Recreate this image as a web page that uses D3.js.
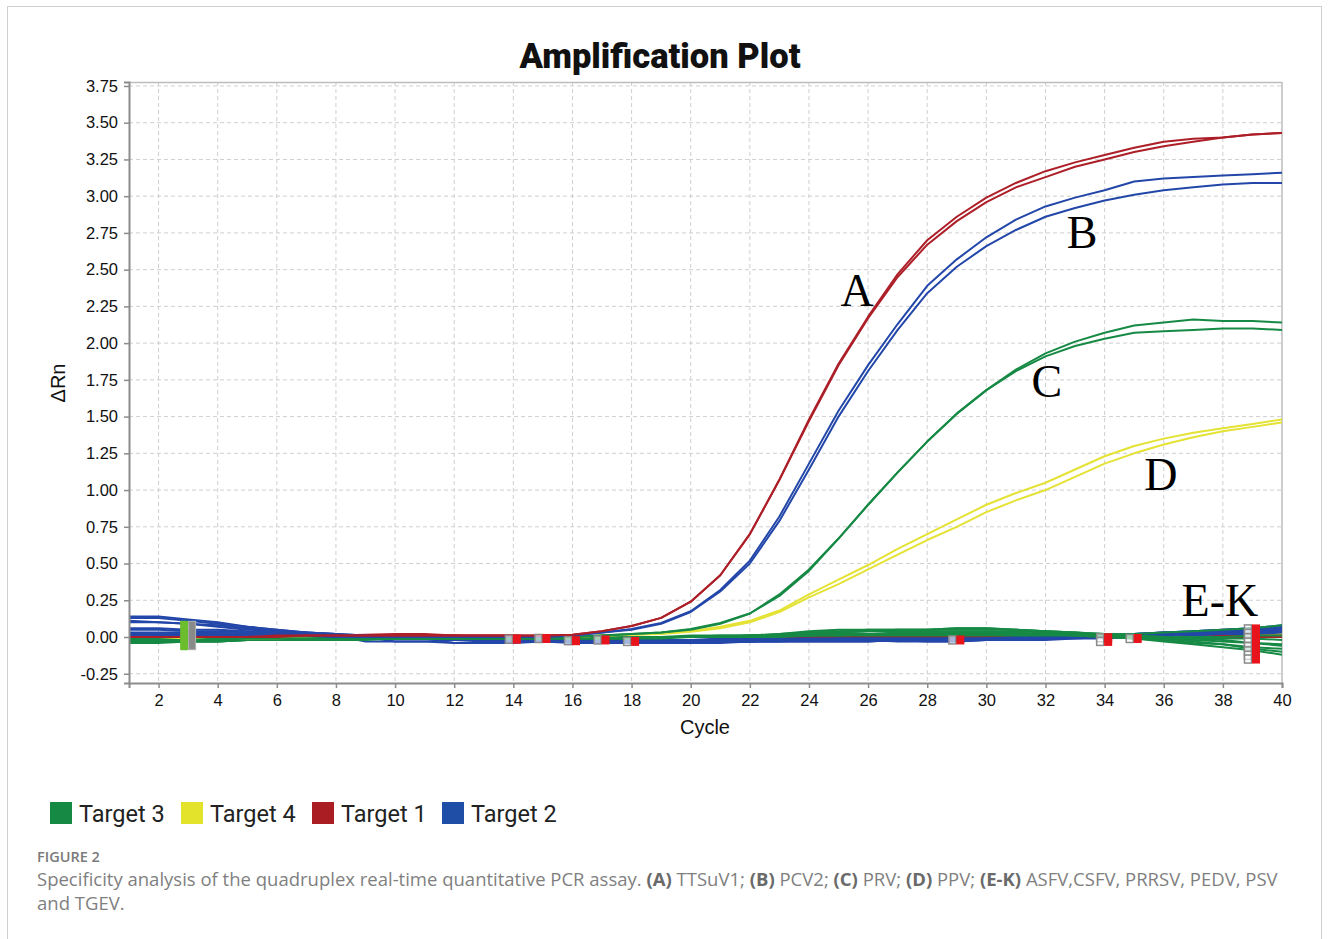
<!DOCTYPE html>
<html>
<head>
<meta charset="utf-8">
<script src="https://cdn.jsdelivr.net/npm/d3@7/dist/d3.min.js"></script>
<style>
  html, body { margin: 0; padding: 0; background: #fff; }
  svg { display: block; }
</style>
</head>
<body>
<svg id="chart" width="1329" height="939"></svg>
<script>
// ---- data -------------------------------------------------------------
const cycles = d3.range(1, 41);
const xTicks = d3.range(2, 41, 2);
const yTicks = [-0.25, 0, 0.25, 0.5, 0.75, 1, 1.25, 1.5, 1.75, 2, 2.25, 2.5, 2.75, 3, 3.25, 3.5, 3.75];

// Amplified samples (delta Rn per cycle, cycles 1..40)
const target1A = [0.00,0.00,0.00,0.00,0.00,0.01,0.01,0.01,0.01,0.01,0.01,0.01,0.01,0.01,0.01,0.015,0.04,0.075,0.13,0.24,0.42,0.70,1.07,1.48,1.86,2.18,2.47,2.70,2.86,2.99,3.09,3.17,3.23,3.28,3.33,3.37,3.39,3.40,3.42,3.43];
const target1B = [0.00,0.00,0.00,0.00,0.00,0.00,0.01,0.01,0.01,0.01,0.01,0.01,0.01,0.01,0.01,0.015,0.04,0.075,0.13,0.24,0.42,0.70,1.07,1.47,1.85,2.17,2.45,2.67,2.83,2.96,3.06,3.13,3.20,3.25,3.30,3.34,3.37,3.40,3.42,3.43];
const target2A = [0.02,0.02,0.02,0.02,0.01,0.01,0.01,0.00,0.00,0.00,0.00,0.00,0.00,0.00,0.00,0.01,0.03,0.055,0.095,0.175,0.32,0.52,0.82,1.18,1.54,1.85,2.13,2.39,2.57,2.72,2.84,2.93,2.99,3.04,3.10,3.12,3.13,3.14,3.15,3.16];
const target2B = [0.01,0.01,0.01,0.01,0.01,0.01,0.01,0.00,0.00,0.00,0.00,0.00,0.00,0.00,0.00,0.01,0.03,0.05,0.09,0.17,0.31,0.50,0.79,1.14,1.50,1.81,2.09,2.34,2.52,2.66,2.77,2.86,2.92,2.97,3.01,3.04,3.06,3.08,3.09,3.09];
const target3A = [-0.02,-0.02,-0.02,-0.01,-0.01,-0.01,-0.01,0.00,0.00,0.00,0.00,0.00,0.00,0.00,0.00,0.00,0.01,0.02,0.03,0.055,0.095,0.16,0.29,0.46,0.67,0.90,1.12,1.33,1.52,1.68,1.82,1.93,2.01,2.07,2.12,2.14,2.16,2.15,2.15,2.14];
const target3B = [-0.02,-0.02,-0.02,-0.02,-0.01,-0.01,-0.01,-0.01,0.00,0.00,0.00,0.00,0.00,0.00,0.00,0.00,0.01,0.02,0.03,0.05,0.09,0.16,0.28,0.45,0.67,0.90,1.12,1.33,1.52,1.68,1.81,1.91,1.98,2.03,2.07,2.08,2.09,2.10,2.10,2.09];
const target4A = [-0.02,-0.02,-0.01,-0.01,-0.01,0.00,0.00,0.00,0.00,0.00,0.00,0.00,0.00,0.00,0.00,0.00,0.01,0.015,0.025,0.04,0.07,0.11,0.18,0.29,0.39,0.49,0.60,0.70,0.80,0.90,0.98,1.05,1.14,1.23,1.30,1.35,1.39,1.42,1.45,1.48];
const target4B = [-0.02,-0.02,-0.02,-0.01,-0.01,-0.01,0.00,0.00,0.00,0.00,0.00,0.00,0.00,0.00,0.00,0.00,0.01,0.015,0.02,0.035,0.06,0.10,0.17,0.27,0.36,0.46,0.56,0.66,0.75,0.85,0.93,1.00,1.09,1.18,1.25,1.31,1.36,1.40,1.43,1.46];

// Negative samples (E-K), grouped by detection channel
const negBlue = [
  [0.14,0.14,0.12,0.10,0.07,0.05,0.03,0.02,0.01,0.00,-0.01,-0.02,-0.02,-0.02,-0.02,-0.02,-0.03,-0.03,-0.03,-0.03,-0.03,-0.03,-0.02,-0.02,-0.02,-0.02,-0.02,-0.02,-0.01,-0.01,-0.01,-0.01,0.00,0.01,0.02,0.03,0.04,0.05,0.06,0.07],
  [0.13,0.13,0.11,0.09,0.07,0.05,0.03,0.02,0.00,-0.01,-0.01,-0.01,-0.02,-0.02,-0.02,-0.02,-0.02,-0.02,-0.03,-0.03,-0.03,-0.03,-0.03,-0.02,-0.02,-0.02,-0.02,-0.02,-0.02,-0.02,-0.01,-0.01,0.00,0.00,0.01,0.02,0.03,0.04,0.04,0.05],
  [0.11,0.10,0.09,0.07,0.05,0.04,0.03,0.01,-0.03,-0.03,-0.03,-0.04,-0.04,-0.04,-0.03,-0.03,-0.03,-0.03,-0.03,-0.03,-0.03,-0.03,-0.03,-0.03,-0.03,-0.03,-0.02,-0.02,-0.02,-0.01,-0.01,0.00,0.00,0.00,0.01,0.02,0.03,0.04,0.05,0.06],
  [0.06,0.06,0.05,0.05,0.04,0.03,0.02,0.01,0.00,-0.03,-0.03,-0.02,-0.02,-0.02,-0.03,-0.03,-0.03,-0.02,-0.02,-0.02,-0.02,-0.02,-0.02,-0.02,-0.02,-0.02,-0.03,-0.03,-0.03,-0.02,-0.02,-0.01,-0.01,0.00,0.00,0.01,0.02,0.03,0.03,0.04],
  [0.05,0.05,0.04,0.04,0.03,0.03,0.02,0.01,0.00,0.00,-0.01,-0.04,-0.04,-0.03,-0.03,-0.04,-0.04,-0.04,-0.04,-0.04,-0.04,-0.03,-0.03,-0.03,-0.03,-0.03,-0.02,-0.02,-0.02,-0.02,-0.02,-0.01,0.00,0.01,0.02,0.03,0.04,0.05,0.06,0.08],
  [0.03,0.03,0.03,0.03,0.02,0.02,0.02,0.01,0.00,0.00,0.00,-0.01,-0.01,-0.01,-0.02,-0.02,-0.02,-0.02,-0.02,-0.02,-0.01,-0.01,-0.01,-0.01,-0.01,-0.01,-0.01,-0.01,-0.01,-0.01,0.00,0.00,0.00,0.01,0.01,0.02,0.02,0.03,0.03,0.04],
  [0.02,0.02,0.02,0.02,0.01,0.01,0.01,0.01,0.00,-0.01,-0.01,-0.02,-0.03,-0.03,-0.02,-0.02,-0.02,-0.03,-0.03,-0.03,-0.03,-0.03,-0.02,-0.02,-0.02,-0.02,-0.02,-0.03,-0.03,-0.02,-0.02,-0.02,-0.01,-0.01,0.00,0.00,0.01,0.02,0.02,0.03],
  [0.10,0.10,0.09,0.08,0.06,0.04,0.03,0.02,0.01,0.00,0.00,-0.01,-0.02,-0.02,-0.02,-0.01,-0.01,-0.02,-0.02,-0.02,-0.02,-0.02,-0.02,-0.02,-0.01,-0.01,-0.01,-0.01,-0.01,-0.02,-0.01,-0.01,0.00,0.01,0.02,0.03,0.03,0.04,0.05,0.06]
];
const negGreen = [
  [-0.04,-0.04,-0.03,-0.03,-0.02,-0.02,-0.02,-0.01,-0.01,-0.01,-0.01,-0.01,-0.01,-0.01,-0.01,-0.01,-0.01,-0.01,0.00,0.00,0.00,0.01,0.02,0.04,0.05,0.05,0.05,0.05,0.06,0.06,0.05,0.04,0.03,0.02,0.01,0.00,-0.01,-0.02,-0.04,-0.05],
  [-0.03,-0.03,-0.03,-0.02,-0.02,-0.02,-0.01,-0.01,-0.01,-0.01,-0.01,-0.01,0.00,0.00,0.00,0.00,0.00,0.00,0.00,0.01,0.01,0.01,0.02,0.03,0.04,0.05,0.05,0.05,0.05,0.05,0.05,0.04,0.03,0.01,-0.01,-0.03,-0.05,-0.07,-0.09,-0.12],
  [-0.02,-0.02,-0.02,-0.02,-0.02,-0.01,-0.01,-0.01,-0.01,-0.01,-0.01,-0.01,-0.01,0.00,0.00,0.00,0.00,0.00,0.00,0.00,0.00,0.01,0.01,0.01,0.02,0.02,0.02,0.03,0.03,0.03,0.03,0.02,0.01,0.00,-0.01,-0.02,-0.04,-0.05,-0.07,-0.08],
  [-0.03,-0.03,-0.02,-0.02,-0.02,-0.02,-0.01,-0.01,-0.01,0.00,0.00,0.00,0.00,0.00,0.00,0.00,0.00,0.00,0.00,0.00,0.01,0.01,0.01,0.01,0.01,0.02,0.02,0.02,0.02,0.02,0.02,0.02,0.02,0.02,0.02,0.03,0.04,0.05,0.06,0.08],
  [-0.02,-0.02,-0.02,-0.02,-0.01,-0.01,-0.01,-0.01,-0.01,-0.01,-0.01,-0.01,0.00,0.00,0.00,0.00,0.00,0.00,0.00,0.00,0.00,0.01,0.01,0.02,0.03,0.04,0.04,0.04,0.04,0.04,0.04,0.03,0.02,0.01,0.00,0.00,0.00,0.00,0.01,0.01],
  [-0.04,-0.03,-0.03,-0.03,-0.02,-0.02,-0.02,-0.02,-0.01,-0.01,-0.01,-0.01,-0.01,-0.01,-0.01,-0.01,-0.01,-0.01,-0.01,0.00,0.00,0.00,0.01,0.01,0.02,0.02,0.03,0.03,0.03,0.03,0.02,0.02,0.01,0.00,-0.01,-0.01,-0.02,-0.03,-0.04,-0.06],
  [-0.01,-0.01,-0.01,-0.01,-0.01,-0.01,-0.01,-0.01,-0.01,-0.01,0.00,0.00,0.00,0.00,0.00,0.00,0.00,0.00,0.00,0.00,0.00,0.00,0.01,0.02,0.03,0.04,0.05,0.05,0.06,0.06,0.05,0.04,0.03,0.02,0.01,0.00,-0.01,-0.01,-0.01,-0.02],
  [-0.03,-0.03,-0.03,-0.03,-0.02,-0.02,-0.02,-0.02,-0.02,-0.01,-0.01,-0.01,-0.01,-0.01,-0.01,-0.01,-0.01,-0.01,0.00,0.00,0.00,0.00,0.00,0.01,0.01,0.01,0.01,0.01,0.01,0.01,0.01,0.01,0.01,0.01,0.00,-0.01,-0.03,-0.05,-0.08,-0.10]
];
const negYellow = [
  [-0.02,-0.02,-0.02,-0.01,-0.01,-0.01,0.00,0.00,0.00,0.00,0.00,0.00,0.00,0.00,0.00,0.00,0.00,0.00,0.00,0.00,0.00,0.00,0.00,0.00,0.00,0.00,0.00,0.00,-0.01,-0.01,-0.01,0.00,0.01,0.02,0.02,0.02,0.02,0.02,0.02,0.02],
  [-0.03,-0.03,-0.02,-0.02,-0.01,-0.01,-0.01,0.00,0.01,0.01,0.01,0.01,0.00,0.00,0.00,0.00,0.00,0.00,0.00,0.00,0.00,0.00,0.00,0.00,-0.01,-0.01,-0.01,-0.01,-0.02,-0.02,-0.01,-0.01,0.00,0.01,0.01,0.01,0.01,0.01,0.01,0.01]
];
const negRed = [
  [0.00,0.00,0.00,0.00,0.00,0.00,0.01,0.01,0.015,0.02,0.02,0.01,0.01,0.01,0.00,0.00,0.00,0.00,0.00,0.00,0.00,0.00,0.00,0.00,0.00,0.00,0.00,0.00,0.00,0.00,0.00,0.00,0.00,0.00,0.00,0.00,0.00,0.00,0.00,0.00],
  [0.00,0.00,0.00,0.00,0.00,0.00,0.00,0.01,0.01,0.01,0.01,0.01,0.00,0.00,0.00,0.00,0.00,0.00,0.00,0.00,0.00,0.00,0.00,0.00,0.00,0.00,0.00,0.00,-0.01,-0.01,-0.01,-0.01,0.00,0.00,0.00,0.00,0.00,0.01,0.01,0.01]
];

// Threshold-crossing (Ct) markers: cycle, delta Rn
const ctMarkers = [
  [14.12,-0.015],[15.12,-0.01],[16.12,-0.025],[17.12,-0.02],[18.12,-0.03],
  [29.12,-0.02],[34.12,-0.005],[34.12,-0.03],[35.12,-0.01],
  [39.12,0.055],[39.12,0.025],[39.12,-0.005],[39.12,-0.035],[39.12,-0.065],[39.12,-0.095],[39.12,-0.125],[39.12,-0.15]
];
// Baseline start bar: cycle, low, high
const baselineStart = [3, -0.09, 0.11];

const curveLabels = [
  { text: "A",   cycle: 25.63, value: 2.25 },
  { text: "B",   cycle: 33.24, value: 2.646 },
  { text: "C",   cycle: 32.05, value: 1.633 },
  { text: "D",   cycle: 35.9,  value: 1.0 },
  { text: "E-K", cycle: 37.9,  value: 0.143 }
];

const legendNames = ["Target 3", "Target 4", "Target 1", "Target 2"];
const legendColors = ["#168a45", "#e4e32b", "#a91d23", "#1e4ea6"];

// ---- layout -----------------------------------------------------------
const plot = { left: 129, right: 1282, top: 82, bottom: 683 };

const colors = {
  red: "#ad1f28",
  blue: "#2347a9",
  green: "#168a45",
  yellow: "#e4e234"
};

const svg = d3.select("#chart");

// outer frame
svg.append("rect")
  .attr("x", 7.5).attr("y", 6.5)
  .attr("width", 1314).attr("height", 1000)
  .attr("fill", "none").attr("stroke", "#cfcfcf").attr("stroke-width", 1);

const x = d3.scaleLinear().domain([1, 40]).range([plot.left, plot.right]);
const y = d3.scaleLinear().domain([-0.313, 3.777]).range([plot.bottom, plot.top]);

// title
svg.append("text")
  .attr("x", 660).attr("y", 68)
  .attr("text-anchor", "middle")
  .attr("font-family", "Roboto, 'Liberation Sans', Arial, sans-serif")
  .attr("font-weight", 900)
  .attr("font-size", 34.5)
  .attr("fill", "#111")
  .text("Amplification Plot");

// grid
const grid = svg.append("g");
grid.selectAll("line.v").data(xTicks.filter(d => d < 40)).join("line")
  .attr("x1", d => x(d)).attr("x2", d => x(d))
  .attr("y1", plot.top).attr("y2", plot.bottom)
  .attr("stroke", "#cfcfcf").attr("stroke-width", 1)
  .attr("stroke-dasharray", "4,3");
grid.selectAll("line.h").data(yTicks).join("line")
  .attr("x1", plot.left).attr("x2", plot.right)
  .attr("y1", d => y(d)).attr("y2", d => y(d))
  .attr("stroke", "#cfcfcf").attr("stroke-width", 1)
  .attr("stroke-dasharray", "4,3");

// top / right frame of the plot area
svg.append("line")
  .attr("x1", plot.left).attr("x2", plot.right)
  .attr("y1", plot.top + 0.5).attr("y2", plot.top + 0.5)
  .attr("stroke", "#bdbdbd").attr("stroke-width", 1.5);
svg.append("line")
  .attr("x1", plot.right).attr("x2", plot.right)
  .attr("y1", plot.top).attr("y2", plot.bottom)
  .attr("stroke", "#bdbdbd").attr("stroke-width", 1.5);

// curves
svg.append("clipPath").attr("id", "plotClip")
  .append("rect")
  .attr("x", plot.left).attr("y", plot.top)
  .attr("width", plot.right - plot.left).attr("height", plot.bottom - plot.top);

const line = d3.line()
  .x((d, i) => x(cycles[i]))
  .y(d => y(d));

const curves = svg.append("g").attr("clip-path", "url(#plotClip)");
function drawSet(set, color) {
  curves.append("g").selectAll("path").data(set).join("path")
    .attr("d", line)
    .attr("fill", "none")
    .attr("stroke", color)
    .attr("stroke-width", 2)
    .attr("stroke-linejoin", "round");
}
drawSet(negYellow, colors.yellow);
drawSet(negRed, colors.red);
drawSet(negBlue, colors.blue);
drawSet(negGreen, colors.green);
drawSet([target4A, target4B], colors.yellow);
drawSet([target3A, target3B], colors.green);
drawSet([target2A, target2B], colors.blue);
drawSet([target1A, target1B], colors.red);

// baseline start bar (green handle + grey handle)
const bs = svg.append("g");
bs.append("rect")
  .attr("x", x(baselineStart[0]) - 8).attr("y", y(baselineStart[2]))
  .attr("width", 8).attr("height", y(baselineStart[1]) - y(baselineStart[2]))
  .attr("fill", "#6cbd2d").attr("rx", 1);
bs.append("rect")
  .attr("x", x(baselineStart[0]) + 0.5).attr("y", y(baselineStart[2]) + 0.5)
  .attr("width", 7).attr("height", y(baselineStart[1]) - y(baselineStart[2]) - 1)
  .attr("fill", "#8a8a8a").attr("stroke", "#b0b0b0").attr("stroke-width", 1);

// Ct markers: grey outlined square followed by red square
const mk = svg.append("g");
mk.selectAll("rect.g").data(ctMarkers).join("rect")
  .attr("x", d => x(d[0]) - 11.5).attr("y", d => y(d[1]) - 4)
  .attr("width", 7).attr("height", 8)
  .attr("fill", "#fff").attr("fill-opacity", 0.6)
  .attr("stroke", "#8a8a8a").attr("stroke-width", 1.5);
mk.selectAll("rect.r").data(ctMarkers).join("rect")
  .attr("x", d => x(d[0]) - 4).attr("y", d => y(d[1]) - 4.5)
  .attr("width", 8).attr("height", 9)
  .attr("fill", "#e8141c");

// axes
const fmt2 = d => d3.format(".2f")(d).replace("\u2212", "-");
const yAxis = d3.axisLeft(y).tickValues(yTicks).tickFormat(fmt2).tickSize(5).tickPadding(6);
const xAxis = d3.axisBottom(x).tickValues(xTicks).tickFormat(d3.format("d")).tickSize(5).tickPadding(6);

const gy = svg.append("g").attr("transform", `translate(${plot.left},0)`).call(yAxis);
const gx = svg.append("g").attr("transform", `translate(0,${plot.bottom})`).call(xAxis);
[gx, gy].forEach(g => {
  g.select(".domain").attr("stroke", "#8c8c8c").attr("stroke-width", 2);
  g.selectAll(".tick line").attr("stroke", "#8c8c8c").attr("stroke-width", 1.5);
  g.selectAll(".tick text")
    .attr("font-family", "'Liberation Sans', Arial, sans-serif")
    .attr("font-size", 16.5)
    .attr("fill", "#111");
});

// axis titles
svg.append("text")
  .attr("x", 705).attr("y", 734)
  .attr("text-anchor", "middle")
  .attr("font-family", "'Liberation Sans', Arial, sans-serif")
  .attr("font-size", 20).attr("fill", "#111")
  .text("Cycle");
svg.append("text")
  .attr("transform", "translate(65,383) rotate(-90)")
  .attr("text-anchor", "middle")
  .attr("font-family", "'Liberation Sans', Arial, sans-serif")
  .attr("font-size", 20).attr("fill", "#111")
  .text("ΔRn");

// curve annotations
svg.append("g").selectAll("text").data(curveLabels).join("text")
  .attr("x", d => x(d.cycle)).attr("y", d => y(d.value))
  .attr("text-anchor", "middle")
  .attr("font-family", "'Liberation Serif', 'Times New Roman', serif")
  .attr("font-size", 46).attr("fill", "#000")
  .text(d => d.text);

// legend
const legendX = [50, 181, 312, 442];
const lg = svg.append("g").selectAll("g").data(legendNames).join("g")
  .attr("transform", (d, i) => `translate(${legendX[i]},802)`);
lg.append("rect").attr("width", 22).attr("height", 22)
  .attr("fill", (d, i) => legendColors[i]);
lg.append("text").attr("x", 29).attr("y", 20)
  .attr("font-family", "Roboto, 'Noto Sans', sans-serif")
  .attr("font-size", 23.5).attr("fill", "#222")
  .text(d => d);

// caption
svg.append("text")
  .attr("x", 37).attr("y", 862)
  .attr("font-family", "'Open Sans', 'Noto Sans', sans-serif")
  .attr("font-size", 14.5).attr("font-weight", 600)
  .attr("fill", "#7a7a7a")
  .text("FIGURE 2");

const captionLines = [
  [["Specificity analysis of the quadruplex real-time quantitative PCR assay. ", false], ["(A)", true], [" TTSuV1; ", false],
   ["(B)", true], [" PCV2; ", false], ["(C)", true], [" PRV; ", false], ["(D)", true], [" PPV; ", false],
   ["(E-K)", true], [" ASFV,CSFV, PRRSV, PEDV, PSV", false]],
  [["and TGEV.", false]]
];
captionLines.forEach((parts, li) => {
  const t = svg.append("text")
    .attr("x", 37).attr("y", 886 + li * 24)
    .attr("font-family", "'Open Sans', 'Noto Sans', sans-serif")
    .attr("font-size", 18.5)
    .attr("fill", "#7f7f7f")
    .attr("xml:space", "preserve");
  parts.forEach(([s, b]) => {
    t.append("tspan")
      .attr("font-weight", b ? 700 : 400)
      .attr("fill", b ? "#6a6a6a" : "#7f7f7f")
      .text(s);
  });
});
</script>
</body>
</html>
